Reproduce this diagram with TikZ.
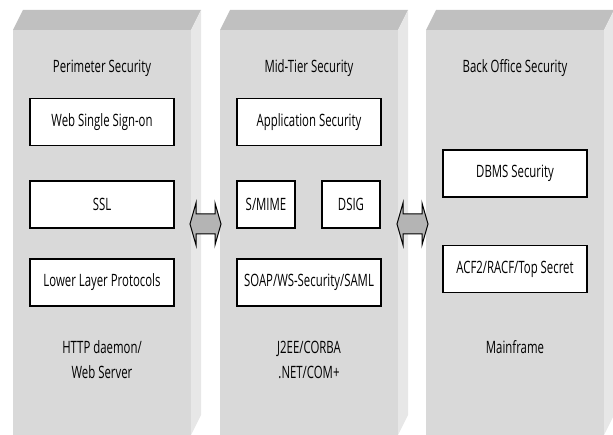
\documentclass[tikz,border=0pt]{standalone}
\usepackage{fontspec}
\newfontfamily\condfont[FakeStretch=0.67]{Open Sans}
\definecolor{frontgray}{RGB}{217,217,217}
\definecolor{topgray}{RGB}{192,192,192}
\definecolor{sidegray}{RGB}{231,231,231}
\definecolor{arrowgray}{RGB}{180,180,180}
\tikzset{
  txt/.style={font=\condfont\fontsize{17}{25}\selectfont, text=black, align=center, inner sep=0pt},
  secbox/.style={txt, draw=black, fill=white, line width=1.2pt, minimum height=47pt},
  widebox/.style={secbox, minimum width=144pt},
  smallbox/.style={secbox, minimum width=58pt},
  blockarrow/.style={fill=arrowgray, draw=black, line width=1pt, line join=miter},
}
\newcommand{\panelshape}[1]{%
  \begin{scope}[xshift=#1]
    \fill[frontgray] (13,30) rectangle (191,440);
    \fill[topgray] (13,30) -- (23,10) -- (201,10) -- (191,30) -- cycle;
    \fill[sidegray] (191,30) -- (201,10) -- (201,415) -- (191,435) -- cycle;
  \end{scope}}
\newcommand{\dblarrow}[1]{%
  \begin{scope}[xshift=#1]
    \draw[blockarrow] (190,224) -- (196,203) -- (196,214) -- (215,214) -- (215,203)
      -- (221,224) -- (215,245) -- (215,234) -- (196,234) -- (196,245) -- cycle;
  \end{scope}}
\begin{document}
\begin{tikzpicture}[x=1pt,y=-1pt]
\useasboundingbox (0,0) rectangle (613,435);
\begin{scope}
\clip (0,0) rectangle (613,435);
\panelshape{0pt}
\panelshape{207pt}
\panelshape{413pt}
\end{scope}
\dblarrow{0pt}
\dblarrow{207pt}

% left panel
\node[txt] (t1) at (102,68) {Perimeter Security};
\node[widebox] (web) at (102,122) {Web Single Sign-on};
\node[widebox] (ssl) at (102,204.5) {SSL};
\node[widebox] (llp) at (102,282.5) {Lower Layer Protocols};
\node[txt] (b1) at (102,359.5) {HTTP daemon/\\Web Server};

% middle panel
\node[txt] (t2) at (309,68) {Mid-Tier Security};
\node[widebox] (app) at (309,122) {Application Security};
\node[smallbox] (smime) at (266,204.5) {S/MIME};
\node[smallbox] (dsig) at (351,204.5) {DSIG};
\node[widebox] (soap) at (309,282.5) {SOAP/WS-Security/SAML};
\node[txt] (b2) at (309,359.5) {J2EE/CORBA\\.NET/COM+};

% right panel
\node[txt] (t3) at (515,68) {Back Office Security};
\node[widebox] (dbms) at (515,173.5) {DBMS Security};
\node[widebox] (acf) at (515,269) {ACF2/RACF/Top Secret};
\node[txt] (b3) at (515,347) {Mainframe};
\end{tikzpicture}
\end{document}
